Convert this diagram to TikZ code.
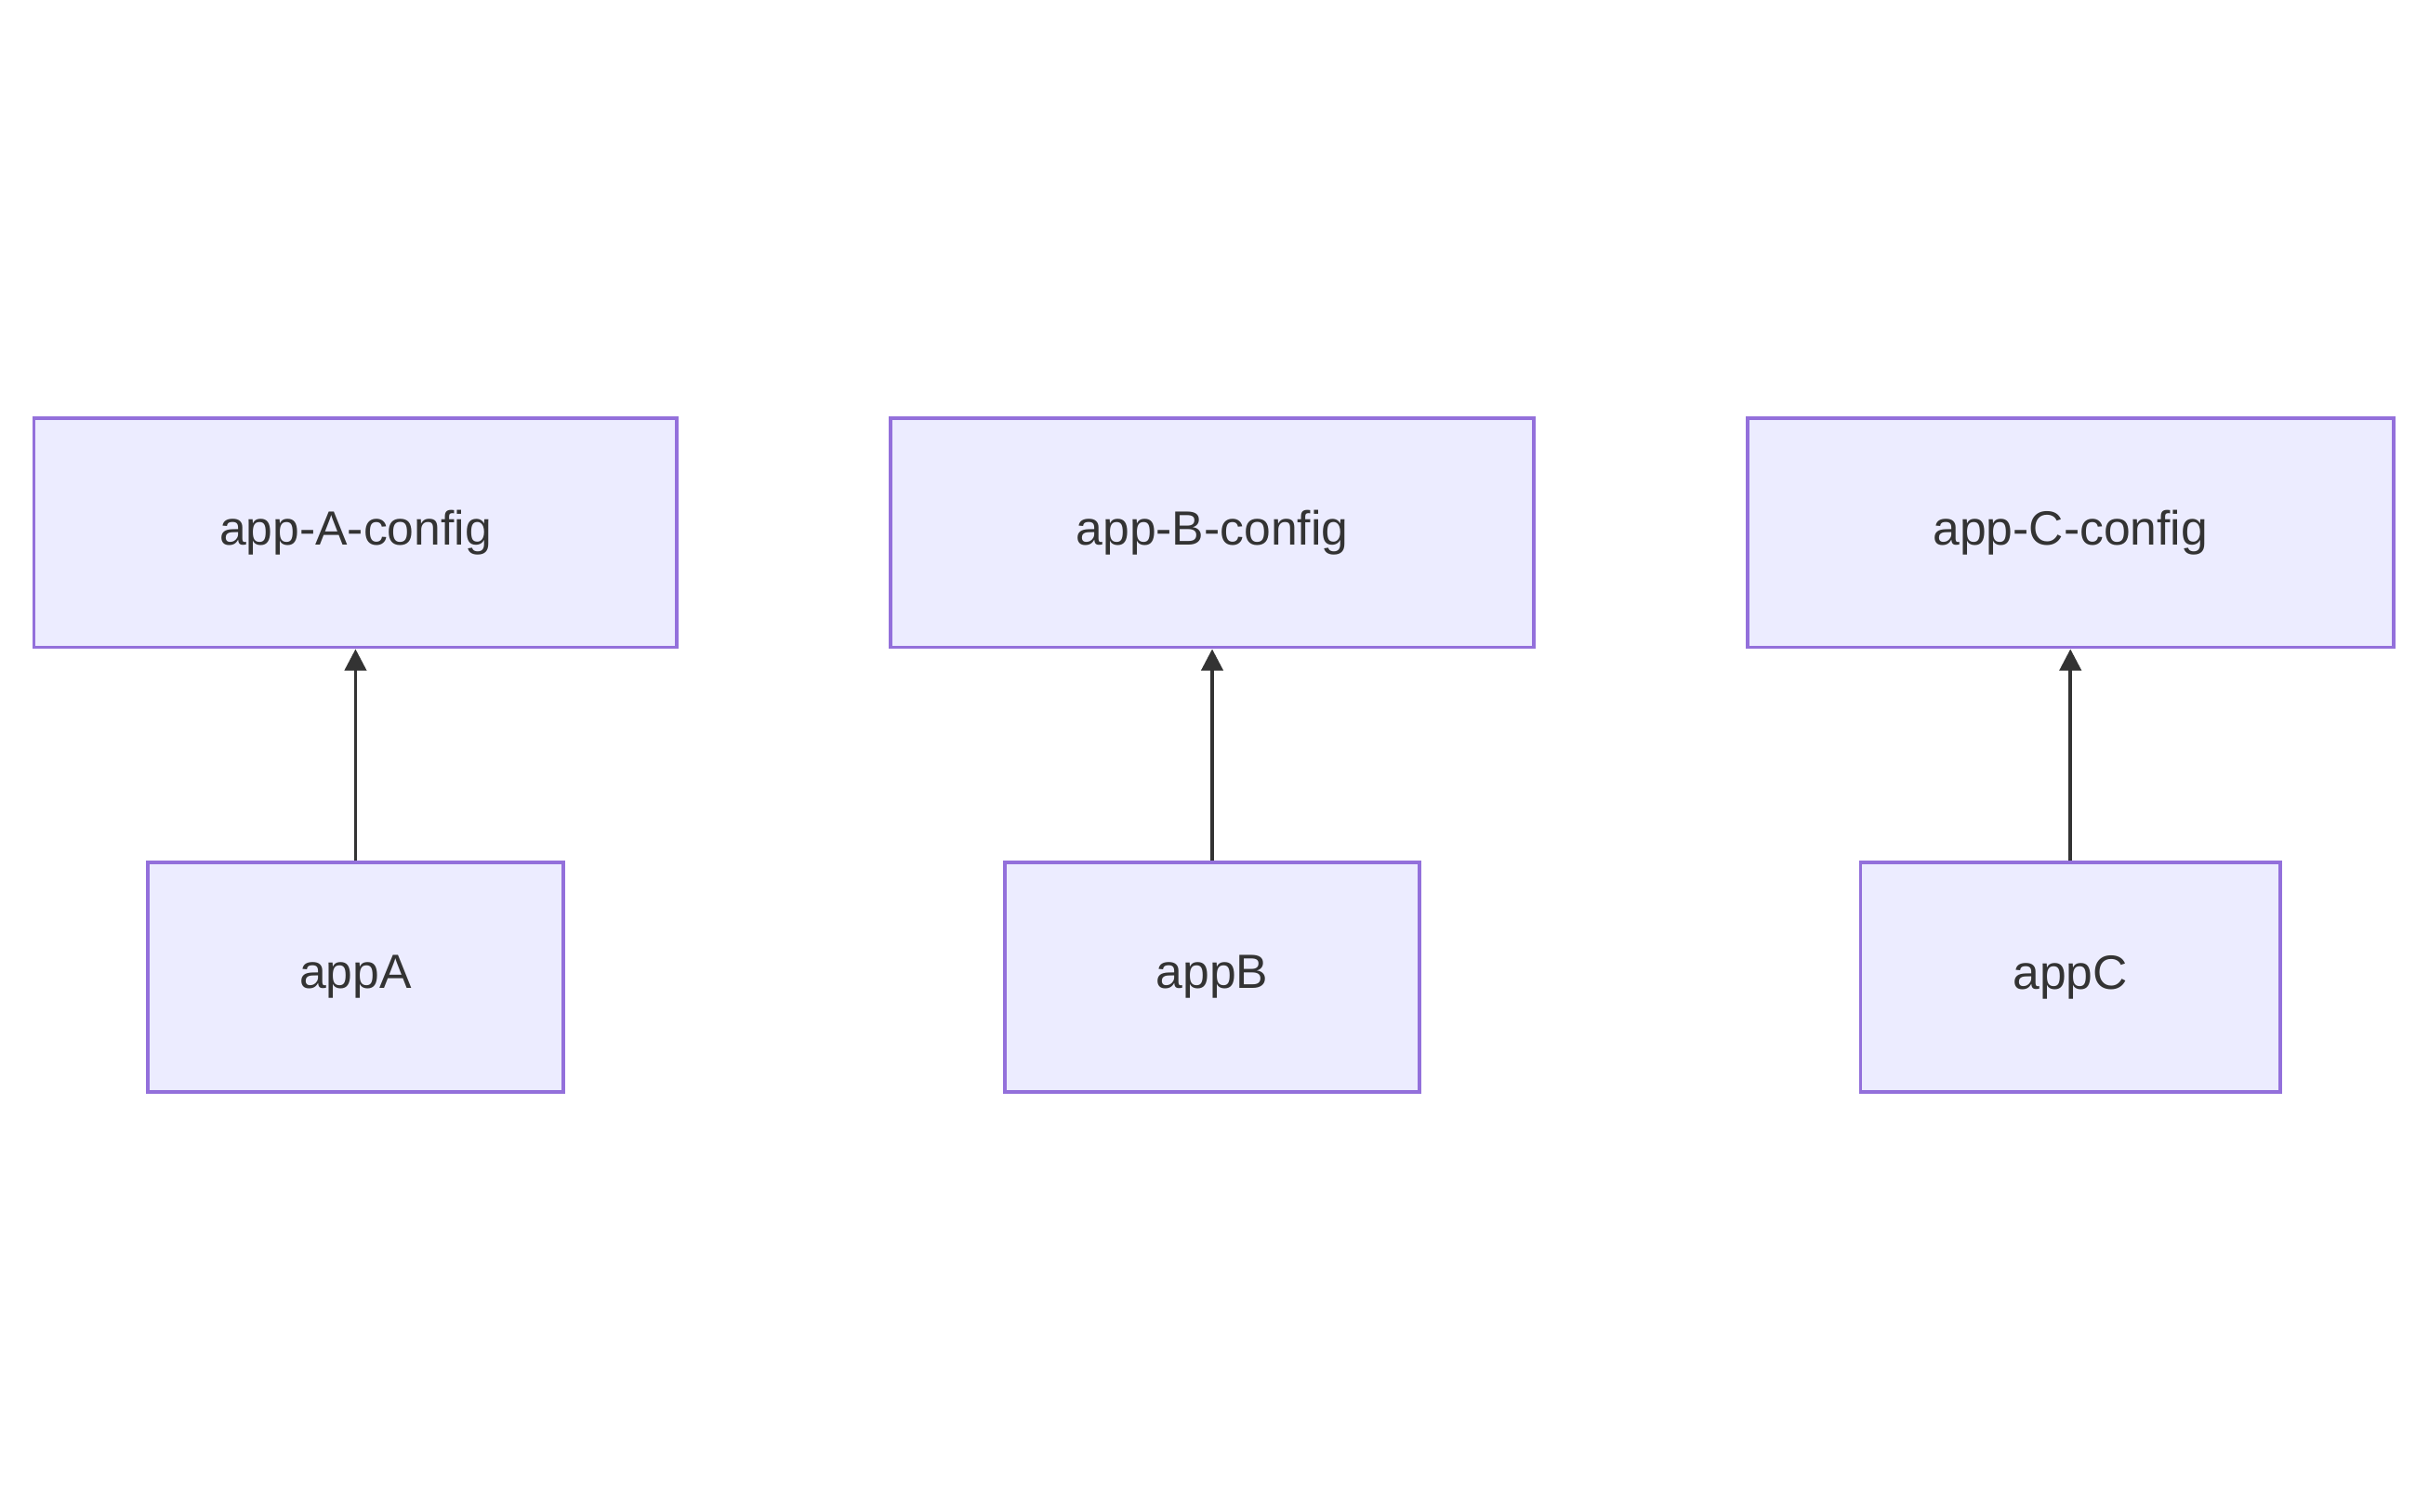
\documentclass[tikz,border=0pt]{standalone}
\usepackage{fontspec}
\setmainfont{Liberation Sans}
\usetikzlibrary{arrows.meta}
\definecolor{nodefill}{HTML}{ECECFF}
\definecolor{nodeline}{HTML}{9370DB}
\definecolor{txt}{HTML}{333333}
\begin{document}
\begin{tikzpicture}[x=1pt,y=-1pt,
  box/.style={draw=nodeline,fill=nodefill,line width=2.2pt,inner sep=0pt,text=txt,font=\fontsize{31}{36}\selectfont},
  link/.style={draw=txt,line width=2.2pt,-{Triangle[length=14pt,width=14pt]}}]
\useasboundingbox (0,0) rectangle (1568,976);
\node[box,minimum width=415pt,minimum height=148pt] (ca) at (229.5,344) {app-A-config};
\node[box,minimum width=415pt,minimum height=148pt] (cb) at (782.5,344) {app-B-config};
\node[box,minimum width=417pt,minimum height=148pt] (cc) at (1336.5,344) {app-C-config};
\node[box,minimum width=268pt,minimum height=148pt] (a) at (229.5,631) {appA};
\node[box,minimum width=268pt,minimum height=148pt] (b) at (782.5,631) {appB};
\node[box,minimum width=271pt,minimum height=148pt] (c) at (1336.5,631) {appC};
\draw[link] (a) -- (ca);
\draw[link] (b) -- (cb);
\draw[link] (c) -- (cc);
\end{tikzpicture}
\end{document}
